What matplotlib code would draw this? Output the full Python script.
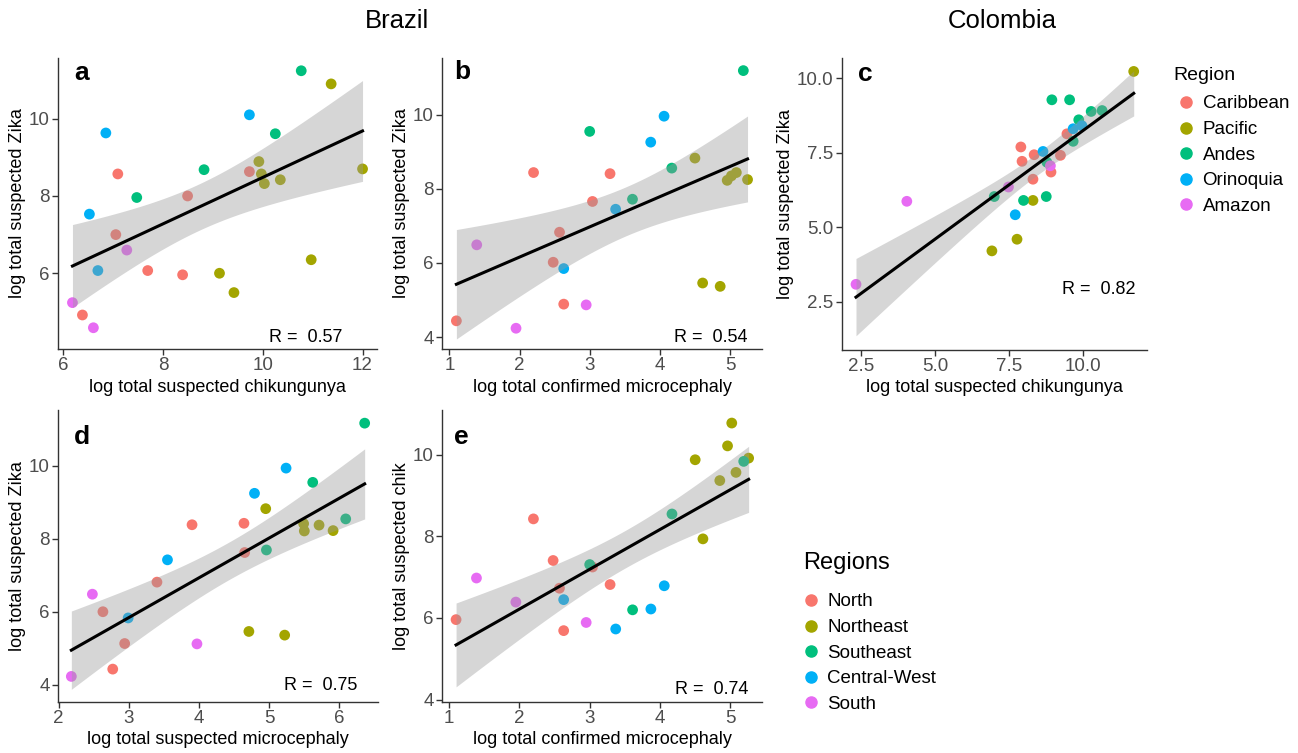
import numpy as np
import matplotlib
matplotlib.use('Agg')
import matplotlib.pyplot as plt
from matplotlib.lines import Line2D

plt.rcParams['font.family'] = ['Liberation Sans', 'DejaVu Sans']

# colours (ggplot default hue palette, 5 levels)
pal = ['#F8766D', '#A3A500', '#00BF7D', '#00B0F6', '#E76BF3']
br_regions = ['North', 'Northeast', 'Southeast', 'Central-West', 'South']
co_regions = ['Caribbean', 'Pacific', 'Andes', 'Orinoquia', 'Amazon']

# ---- Brazil: a) chik vs zika
a_chik = [9.73, 7.09, 8.49, 7.05, 7.69, 8.39, 6.38,
          11.37, 9.92, 9.97, 10.03, 10.35, 12.0, 9.13, 10.97, 9.42,
          10.77, 10.25, 8.82, 7.47,
          9.73, 6.85, 6.52, 6.69,
          7.27, 6.18, 6.60]
a_zika = [8.63, 8.57, 8.00, 7.00, 6.07, 5.96, 4.92,
          10.90, 8.89, 8.57, 8.32, 8.42, 8.70, 6.00, 6.35, 5.50,
          11.24, 9.61, 8.68, 7.96,
          10.10, 9.63, 7.53, 6.07,
          6.60, 5.24, 4.59]
a_reg = [0]*7 + [1]*9 + [2]*4 + [3]*4 + [4]*3

# ---- Brazil: b) confirmed microcephaly vs zika
b_micro = [2.20, 3.29, 3.04, 2.57, 2.48, 2.63, 1.10,
           4.50, 4.96, 5.02, 5.09, 5.25, 4.61, 4.86,
           5.19, 3.00, 4.17, 3.61,
           4.06, 3.87, 3.37, 2.63,
           1.39, 2.95, 1.95]
b_zika = [8.44, 8.41, 7.66, 6.83, 6.02, 4.89, 4.44,
          8.83, 8.23, 8.35, 8.44, 8.25, 5.46, 5.37,
          11.19, 9.55, 8.56, 7.72,
          9.96, 9.26, 7.45, 5.85,
          6.49, 4.87, 4.24]
b_reg = [0]*7 + [1]*7 + [2]*4 + [3]*4 + [4]*3

# ---- Colombia: c) chik vs zika
c_chik = [9.47, 7.91, 8.36, 9.25, 7.95, 8.93, 8.32,
          11.73, 8.32, 7.78, 6.93,
          8.96, 9.56, 10.29, 10.66, 9.87, 9.68, 8.79, 7.01, 8.00, 8.77,
          9.68, 9.98, 8.66, 7.72,
          8.91, 7.49, 4.05, 2.33]
c_zika = [8.13, 7.69, 7.43, 7.41, 7.21, 6.85, 6.61,
          10.22, 5.90, 4.60, 4.21,
          9.27, 9.27, 8.88, 8.91, 8.60, 7.88, 7.18, 6.03, 5.90, 6.03,
          8.30, 8.40, 7.54, 5.42,
          7.06, 6.35, 5.87, 3.09]
c_reg = [0]*7 + [1]*4 + [2]*10 + [3]*4 + [4]*4

# ---- Brazil: d) suspected microcephaly vs zika
d_micro = [3.90, 4.64, 4.65, 3.40, 2.63, 2.94, 2.77,
           4.95, 5.49, 5.50, 5.71, 5.91, 4.71, 5.22,
           6.36, 5.62, 6.09, 4.96,
           5.24, 4.79, 3.55, 2.99,
           2.48, 3.97, 2.18]
d_zika = [8.38, 8.42, 7.62, 6.81, 6.00, 5.13, 4.43,
          8.82, 8.41, 8.21, 8.37, 8.22, 5.46, 5.36,
          11.16, 9.54, 8.54, 7.69,
          9.93, 9.24, 7.42, 5.83,
          6.48, 5.12, 4.23]
d_reg = [0]*7 + [1]*7 + [2]*4 + [3]*4 + [4]*3

# ---- Brazil: e) confirmed microcephaly vs chik
e_micro = [2.20, 2.48, 3.04, 2.57, 3.29, 1.10, 2.63,
           5.02, 4.96, 4.50, 5.26, 5.08, 4.85, 4.61,
           5.19, 4.17, 3.00, 3.61,
           4.06, 2.63, 3.87, 3.37,
           1.39, 1.95, 2.95]
e_chik = [8.43, 7.41, 7.25, 6.73, 6.82, 5.96, 5.69,
          10.78, 10.22, 9.88, 9.92, 9.57, 9.37, 7.94,
          9.84, 8.55, 7.31, 6.20,
          6.79, 6.45, 6.22, 5.73,
          6.98, 6.39, 5.89]
e_reg = [0]*7 + [1]*7 + [2]*4 + [3]*4 + [4]*3

W, H = 1298, 753
fig = plt.figure(figsize=(W/100, H/100), dpi=100)


def px_axes(l, t, r, b):
    return fig.add_axes([l/W, 1 - b/H, (r - l)/W, (b - t)/H])


def t975(df):
    # Cornish-Fisher approximation to the t quantile
    z = 1.959964
    return z + (z**3 + z)/(4*df) + (5*z**5 + 16*z**3 + 3*z)/(96*df**2)


def panel(ax, x, y, reg, xlabel, ylabel, xlim, ylim, xticks, yticks, fmt=None):
    x = np.array(x); y = np.array(y)
    ax.scatter(x, y, c=[pal[r] for r in reg], s=60, linewidths=0, zorder=2)
    # linear fit with 95% confidence band
    b1, b0 = np.polyfit(x, y, 1)
    n = len(x)
    resid = y - (b0 + b1*x)
    s2 = np.sum(resid**2)/(n - 2)
    xs = np.linspace(x.min(), x.max(), 200)
    se = np.sqrt(s2*(1/n + (xs - x.mean())**2/np.sum((x - x.mean())**2)))
    fit = b0 + b1*xs
    t = t975(n - 2)
    ax.fill_between(xs, fit - t*se, fit + t*se, color='#999999', alpha=0.4,
                    linewidth=0, zorder=3)
    ax.plot(xs, fit, color='black', lw=2.2, zorder=4)
    ax.set_xlim(xlim); ax.set_ylim(ylim)
    ax.set_xticks(xticks); ax.set_yticks(yticks)
    if fmt:
        ax.set_xticklabels([fmt % v for v in xticks])
        ax.set_yticklabels([fmt % v for v in yticks])
    ax.set_xlabel(xlabel, fontsize=13, labelpad=3)
    ax.set_ylabel(ylabel, fontsize=13, labelpad=2)
    for s in ['top', 'right']:
        ax.spines[s].set_visible(False)
    for s in ['left', 'bottom']:
        ax.spines[s].set_color('#333333')
        ax.spines[s].set_linewidth(1.0)
    ax.tick_params(length=4, width=1.0, color='#333333', labelcolor='#4d4d4d',
                   labelsize=13.5, pad=2)
    ax.set_facecolor('none')


ax_a = px_axes(58, 58, 377, 349)
panel(ax_a, a_chik, a_zika, a_reg, 'log total suspected chikungunya',
      'log total suspected Zika', (5.89, 12.29), (4.04, 11.57), [6, 8, 10, 12], [6, 8, 10])

ax_b = px_axes(442, 58, 762, 349)
panel(ax_b, b_micro, b_zika, b_reg, 'log total confirmed microcephaly',
      'log total suspected Zika', (0.895, 5.456), (3.68, 11.53), [1, 2, 3, 4, 5], [4, 6, 8, 10])

ax_c = px_axes(842, 58, 1147, 350)
panel(ax_c, c_chik, c_zika, c_reg, 'log total suspected chikungunya',
      'log total suspected Zika', (1.856, 12.18), (0.89, 10.67), [2.5, 5.0, 7.5, 10.0],
      [2.5, 5.0, 7.5, 10.0], fmt='%.1f')

ax_d = px_axes(58, 410, 378, 702)
panel(ax_d, d_micro, d_zika, d_reg, 'log total suspected microcephaly',
      'log total suspected Zika', (1.99, 6.55), (3.53, 11.52), [2, 3, 4, 5, 6], [4, 6, 8, 10])

ax_e = px_axes(442, 410, 762, 702)
panel(ax_e, e_micro, e_chik, e_reg, 'log total confirmed microcephaly',
      'log total suspected chik', (0.90, 5.45), (3.94, 11.10), [1, 2, 3, 4, 5], [4, 6, 8, 10])

# panel tags and correlation labels
tags = [('a', 82, 73), ('b', 462, 72), ('c', 865, 74), ('d', 82, 437), ('e', 461, 437)]
for lab, x, y in tags:
    fig.text(x/W, 1 - y/H, lab, fontsize=19, fontweight='bold', ha='center', va='center')

rlabs = [('R =  0.57', 342, 337), ('R =  0.54', 748, 337), ('R =  0.82', 1136, 290),
         ('R =  0.75', 357, 686), ('R =  0.74', 748, 690)]
for lab, x, y in rlabs:
    fig.text(x/W, 1 - y/H, lab, fontsize=13, ha='right', va='center')

fig.text(397/W, 1 - 21/H, 'Brazil', fontsize=18.5, ha='center', va='center')
fig.text(1002/W, 1 - 21/H, 'Colombia', fontsize=18.5, ha='center', va='center')

# legends (titles as separate text so the gaps match)
fig.text(1173/W, 1 - 75/H, 'Region', fontsize=14, ha='left', va='center')
co_handles = [Line2D([], [], marker='o', ls='', color=pal[i], markersize=8) for i in range(5)]
fig.legend(co_handles, co_regions, loc='upper left', bbox_to_anchor=(1165/W, 1 - 86/H),
           frameon=False, fontsize=13.5, handletextpad=0.3, labelspacing=0.45,
           borderpad=0, handlelength=1.2)

fig.text(803/W, 1 - 563/H, 'Regions', fontsize=17, ha='left', va='center')
br_handles = [Line2D([], [], marker='o', ls='', color=pal[i], markersize=8) for i in range(5)]
fig.legend(br_handles, br_regions, loc='upper left', bbox_to_anchor=(790/W, 1 - 584/H),
           frameon=False, fontsize=13.5, handletextpad=0.3, labelspacing=0.45,
           borderpad=0, handlelength=1.2)

fig.savefig('out.png', dpi=100)
